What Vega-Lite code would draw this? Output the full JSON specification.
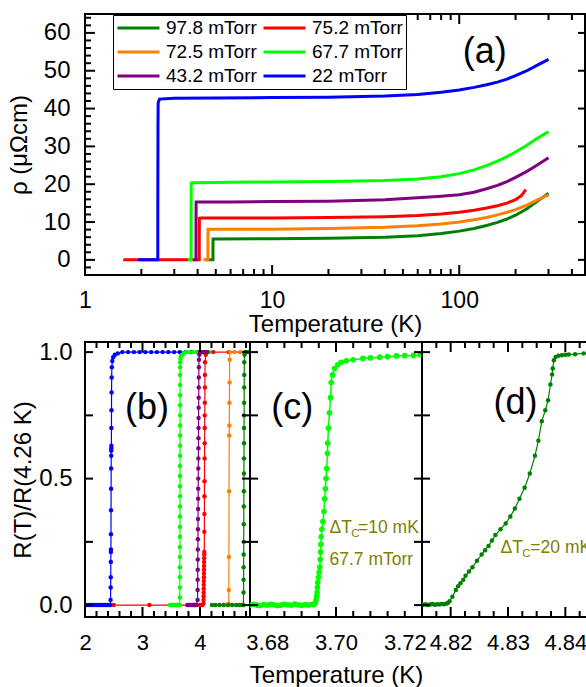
{
"$schema": "https://vega.github.io/schema/vega-lite/v6.json",
"padding": {"left": 6, "top": 9, "right": 0, "bottom": 0},
"background": "white",
"config": {
  "font": "Liberation Sans",
  "view": {"stroke": "black", "strokeWidth": 2},
  "axis": {"grid": false, "domain": false, "ticks": false, "labelColor": "black", "labelFontSize": 23, "titleFontSize": 24, "titleFontWeight": "normal", "titleColor": "black", "labelOverlap": false, "labelFlush": false, "labelFont": "Liberation Sans", "titleFont": "Liberation Sans"},
  "text": {"font": "Liberation Sans"}
},
"datasets": {
  "top": [
    {"s":"75.2 mTorr","T":1.6,"r":0},{"s":"75.2 mTorr","T":2,"r":0},{"s":"75.2 mTorr","T":2.5,"r":0},{"s":"75.2 mTorr","T":3,"r":0},{"s":"75.2 mTorr","T":3.5,"r":0},{"s":"75.2 mTorr","T":4.079,"r":0},{"s":"75.2 mTorr","T":4.08,"r":6},{"s":"75.2 mTorr","T":4.085,"r":11},{"s":"75.2 mTorr","T":4.2,"r":11.1},{"s":"75.2 mTorr","T":6,"r":11.1},{"s":"75.2 mTorr","T":10,"r":11.1},{"s":"75.2 mTorr","T":20,"r":11.2},{"s":"75.2 mTorr","T":40,"r":11.4},{"s":"75.2 mTorr","T":60,"r":11.7},{"s":"75.2 mTorr","T":80,"r":12.1},{"s":"75.2 mTorr","T":100,"r":12.6},{"s":"75.2 mTorr","T":120,"r":13.1},{"s":"75.2 mTorr","T":140,"r":13.7},{"s":"75.2 mTorr","T":160,"r":14.3},{"s":"75.2 mTorr","T":180,"r":15.0},{"s":"75.2 mTorr","T":200,"r":15.9},{"s":"75.2 mTorr","T":215,"r":17.0},{"s":"75.2 mTorr","T":227,"r":18.6},
    {"s":"97.8 mTorr","T":4.4,"r":0},{"s":"97.8 mTorr","T":4.829,"r":0},{"s":"97.8 mTorr","T":4.83,"r":3},{"s":"97.8 mTorr","T":4.835,"r":5.5},{"s":"97.8 mTorr","T":5,"r":5.5},{"s":"97.8 mTorr","T":10,"r":5.6},{"s":"97.8 mTorr","T":20,"r":5.7},{"s":"97.8 mTorr","T":40,"r":6.0},{"s":"97.8 mTorr","T":60,"r":6.4},{"s":"97.8 mTorr","T":80,"r":7.0},{"s":"97.8 mTorr","T":100,"r":7.6},{"s":"97.8 mTorr","T":120,"r":8.3},{"s":"97.8 mTorr","T":140,"r":9.1},{"s":"97.8 mTorr","T":160,"r":9.9},{"s":"97.8 mTorr","T":180,"r":10.8},{"s":"97.8 mTorr","T":200,"r":11.8},{"s":"97.8 mTorr","T":230,"r":13.5},{"s":"97.8 mTorr","T":260,"r":15.4},{"s":"97.8 mTorr","T":300,"r":17.6},
    {"s":"72.5 mTorr","T":4.3,"r":0},{"s":"72.5 mTorr","T":4.539,"r":0},{"s":"72.5 mTorr","T":4.54,"r":5},{"s":"72.5 mTorr","T":4.545,"r":8.1},{"s":"72.5 mTorr","T":4.7,"r":8.1},{"s":"72.5 mTorr","T":6,"r":8.1},{"s":"72.5 mTorr","T":10,"r":8.1},{"s":"72.5 mTorr","T":20,"r":8.3},{"s":"72.5 mTorr","T":40,"r":8.6},{"s":"72.5 mTorr","T":60,"r":9.0},{"s":"72.5 mTorr","T":80,"r":9.5},{"s":"72.5 mTorr","T":100,"r":10.0},{"s":"72.5 mTorr","T":120,"r":10.6},{"s":"72.5 mTorr","T":140,"r":11.2},{"s":"72.5 mTorr","T":160,"r":11.9},{"s":"72.5 mTorr","T":180,"r":12.6},{"s":"72.5 mTorr","T":200,"r":13.3},{"s":"72.5 mTorr","T":230,"r":14.5},{"s":"72.5 mTorr","T":260,"r":15.8},{"s":"72.5 mTorr","T":300,"r":17.2},
    {"s":"43.2 mTorr","T":3.8,"r":0},{"s":"43.2 mTorr","T":3.919,"r":0},{"s":"43.2 mTorr","T":3.92,"r":8},{"s":"43.2 mTorr","T":3.925,"r":15.3},{"s":"43.2 mTorr","T":4.1,"r":15.3},{"s":"43.2 mTorr","T":6,"r":15.3},{"s":"43.2 mTorr","T":10,"r":15.4},{"s":"43.2 mTorr","T":20,"r":15.5},{"s":"43.2 mTorr","T":40,"r":15.9},{"s":"43.2 mTorr","T":60,"r":16.4},{"s":"43.2 mTorr","T":80,"r":16.8},{"s":"43.2 mTorr","T":100,"r":17.2},{"s":"43.2 mTorr","T":120,"r":17.9},{"s":"43.2 mTorr","T":140,"r":18.8},{"s":"43.2 mTorr","T":160,"r":19.7},{"s":"43.2 mTorr","T":180,"r":20.7},{"s":"43.2 mTorr","T":200,"r":21.8},{"s":"43.2 mTorr","T":230,"r":23.4},{"s":"43.2 mTorr","T":260,"r":25.0},{"s":"43.2 mTorr","T":300,"r":27.0},
    {"s":"67.7 mTorr","T":3.55,"r":0},{"s":"67.7 mTorr","T":3.689,"r":0},{"s":"67.7 mTorr","T":3.69,"r":10},{"s":"67.7 mTorr","T":3.695,"r":20.3},{"s":"67.7 mTorr","T":3.8,"r":20.4},{"s":"67.7 mTorr","T":6,"r":20.5},{"s":"67.7 mTorr","T":10,"r":20.6},{"s":"67.7 mTorr","T":20,"r":20.7},{"s":"67.7 mTorr","T":40,"r":21.0},{"s":"67.7 mTorr","T":60,"r":21.4},{"s":"67.7 mTorr","T":80,"r":22.0},{"s":"67.7 mTorr","T":100,"r":22.8},{"s":"67.7 mTorr","T":120,"r":23.8},{"s":"67.7 mTorr","T":140,"r":24.9},{"s":"67.7 mTorr","T":160,"r":26.1},{"s":"67.7 mTorr","T":180,"r":27.3},{"s":"67.7 mTorr","T":200,"r":28.5},{"s":"67.7 mTorr","T":230,"r":30.3},{"s":"67.7 mTorr","T":260,"r":32.1},{"s":"67.7 mTorr","T":300,"r":33.9},
    {"s":"22 mTorr","T":1.92,"r":0},{"s":"22 mTorr","T":2.1,"r":0},{"s":"22 mTorr","T":2.3,"r":0},{"s":"22 mTorr","T":2.449,"r":0},{"s":"22 mTorr","T":2.45,"r":15},{"s":"22 mTorr","T":2.455,"r":35},{"s":"22 mTorr","T":2.46,"r":41.5},{"s":"22 mTorr","T":2.5,"r":42.5},{"s":"22 mTorr","T":3,"r":42.7},{"s":"22 mTorr","T":5,"r":42.8},{"s":"22 mTorr","T":10,"r":42.9},{"s":"22 mTorr","T":20,"r":43.0},{"s":"22 mTorr","T":40,"r":43.3},{"s":"22 mTorr","T":60,"r":43.7},{"s":"22 mTorr","T":80,"r":44.3},{"s":"22 mTorr","T":100,"r":44.9},{"s":"22 mTorr","T":120,"r":45.6},{"s":"22 mTorr","T":140,"r":46.3},{"s":"22 mTorr","T":160,"r":47.0},{"s":"22 mTorr","T":180,"r":47.8},{"s":"22 mTorr","T":200,"r":48.7},{"s":"22 mTorr","T":230,"r":50.0},{"s":"22 mTorr","T":260,"r":51.4},{"s":"22 mTorr","T":300,"r":53.0}
  ],
  "b": [
    {"s":"75.2 mTorr","T":2.0,"v":0},{"s":"75.2 mTorr","T":2.5,"v":0},{"s":"75.2 mTorr","T":3.12,"v":0},{"s":"75.2 mTorr","T":3.6,"v":0},{"s":"75.2 mTorr","T":3.9,"v":0},{"s":"75.2 mTorr","T":4.0,"v":0},{"s":"75.2 mTorr","T":4.04,"v":0},{"s":"75.2 mTorr","T":4.06,"v":0.005},{"s":"75.2 mTorr","T":4.062,"v":0.02},{"s":"75.2 mTorr","T":4.063,"v":0.035},{"s":"75.2 mTorr","T":4.064,"v":0.05},{"s":"75.2 mTorr","T":4.065,"v":0.065},{"s":"75.2 mTorr","T":4.066,"v":0.08},{"s":"75.2 mTorr","T":4.067,"v":0.095},{"s":"75.2 mTorr","T":4.068,"v":0.11},{"s":"75.2 mTorr","T":4.069,"v":0.125},{"s":"75.2 mTorr","T":4.07,"v":0.14},{"s":"75.2 mTorr","T":4.071,"v":0.155},{"s":"75.2 mTorr","T":4.072,"v":0.17},{"s":"75.2 mTorr","T":4.073,"v":0.185},{"s":"75.2 mTorr","T":4.074,"v":0.2},{"s":"75.2 mTorr","T":4.075,"v":0.21},{"s":"75.2 mTorr","T":4.076,"v":0.29},{"s":"75.2 mTorr","T":4.077,"v":0.36},{"s":"75.2 mTorr","T":4.078,"v":0.43},{"s":"75.2 mTorr","T":4.079,"v":0.49},{"s":"75.2 mTorr","T":4.08,"v":0.58},{"s":"75.2 mTorr","T":4.081,"v":0.64},{"s":"75.2 mTorr","T":4.082,"v":0.7},{"s":"75.2 mTorr","T":4.083,"v":0.75},{"s":"75.2 mTorr","T":4.084,"v":0.8},{"s":"75.2 mTorr","T":4.085,"v":0.86},{"s":"75.2 mTorr","T":4.086,"v":0.91},{"s":"75.2 mTorr","T":4.088,"v":0.96},{"s":"75.2 mTorr","T":4.1,"v":0.99},{"s":"75.2 mTorr","T":4.13,"v":1.0},{"s":"75.2 mTorr","T":4.23,"v":1.0},{"s":"75.2 mTorr","T":4.5,"v":1.0},{"s":"75.2 mTorr","T":4.78,"v":1.0},
    {"s":"22 mTorr","T":2.0,"v":0},{"s":"22 mTorr","T":2.03,"v":0},{"s":"22 mTorr","T":2.06,"v":0},{"s":"22 mTorr","T":2.09,"v":0},{"s":"22 mTorr","T":2.12,"v":0},{"s":"22 mTorr","T":2.15,"v":0},{"s":"22 mTorr","T":2.18,"v":0},{"s":"22 mTorr","T":2.21,"v":0},{"s":"22 mTorr","T":2.24,"v":0},{"s":"22 mTorr","T":2.27,"v":0},{"s":"22 mTorr","T":2.3,"v":0},{"s":"22 mTorr","T":2.33,"v":0},{"s":"22 mTorr","T":2.36,"v":0},{"s":"22 mTorr","T":2.39,"v":0},{"s":"22 mTorr","T":2.42,"v":0},{"s":"22 mTorr","T":2.44,"v":0},{"s":"22 mTorr","T":2.445,"v":0.02},{"s":"22 mTorr","T":2.447,"v":0.07},{"s":"22 mTorr","T":2.448,"v":0.11},{"s":"22 mTorr","T":2.449,"v":0.17},{"s":"22 mTorr","T":2.45,"v":0.21},{"s":"22 mTorr","T":2.451,"v":0.22},{"s":"22 mTorr","T":2.452,"v":0.28},{"s":"22 mTorr","T":2.453,"v":0.375},{"s":"22 mTorr","T":2.454,"v":0.46},{"s":"22 mTorr","T":2.455,"v":0.54},{"s":"22 mTorr","T":2.456,"v":0.59},{"s":"22 mTorr","T":2.457,"v":0.61},{"s":"22 mTorr","T":2.458,"v":0.62},{"s":"22 mTorr","T":2.459,"v":0.63},{"s":"22 mTorr","T":2.46,"v":0.7},{"s":"22 mTorr","T":2.461,"v":0.77},{"s":"22 mTorr","T":2.462,"v":0.84},{"s":"22 mTorr","T":2.464,"v":0.9},{"s":"22 mTorr","T":2.467,"v":0.94},{"s":"22 mTorr","T":2.475,"v":0.965},{"s":"22 mTorr","T":2.49,"v":0.98},{"s":"22 mTorr","T":2.52,"v":0.99},{"s":"22 mTorr","T":2.57,"v":0.995},{"s":"22 mTorr","T":2.65,"v":1.0},{"s":"22 mTorr","T":2.75,"v":1.0},{"s":"22 mTorr","T":2.85,"v":1.0},{"s":"22 mTorr","T":2.95,"v":1.0},{"s":"22 mTorr","T":3.05,"v":1.0},{"s":"22 mTorr","T":3.15,"v":1.0},{"s":"22 mTorr","T":3.25,"v":1.0},{"s":"22 mTorr","T":3.35,"v":1.0},{"s":"22 mTorr","T":3.45,"v":1.0},{"s":"22 mTorr","T":3.55,"v":1.0},{"s":"22 mTorr","T":3.65,"v":1.0},{"s":"22 mTorr","T":3.75,"v":1.0},{"s":"22 mTorr","T":3.85,"v":1.0},{"s":"22 mTorr","T":3.95,"v":1.0},{"s":"22 mTorr","T":4.05,"v":1.0},
    {"s":"67.7 mTorr","T":3.48,"v":0},{"s":"67.7 mTorr","T":3.5,"v":0},{"s":"67.7 mTorr","T":3.52,"v":0},{"s":"67.7 mTorr","T":3.54,"v":0},{"s":"67.7 mTorr","T":3.56,"v":0},{"s":"67.7 mTorr","T":3.58,"v":0},{"s":"67.7 mTorr","T":3.6,"v":0},{"s":"67.7 mTorr","T":3.62,"v":0},{"s":"67.7 mTorr","T":3.635,"v":0},{"s":"67.7 mTorr","T":3.645,"v":0},{"s":"67.7 mTorr","T":3.65,"v":0.03},{"s":"67.7 mTorr","T":3.6502,"v":0.07},{"s":"67.7 mTorr","T":3.6504,"v":0.11},{"s":"67.7 mTorr","T":3.6506,"v":0.15},{"s":"67.7 mTorr","T":3.6508,"v":0.19},{"s":"67.7 mTorr","T":3.651,"v":0.23},{"s":"67.7 mTorr","T":3.6512,"v":0.27},{"s":"67.7 mTorr","T":3.6514,"v":0.31},{"s":"67.7 mTorr","T":3.6516,"v":0.35},{"s":"67.7 mTorr","T":3.6518,"v":0.39},{"s":"67.7 mTorr","T":3.652,"v":0.43},{"s":"67.7 mTorr","T":3.6522,"v":0.47},{"s":"67.7 mTorr","T":3.6524,"v":0.51},{"s":"67.7 mTorr","T":3.6526,"v":0.55},{"s":"67.7 mTorr","T":3.6528,"v":0.59},{"s":"67.7 mTorr","T":3.653,"v":0.63},{"s":"67.7 mTorr","T":3.6532,"v":0.67},{"s":"67.7 mTorr","T":3.6534,"v":0.71},{"s":"67.7 mTorr","T":3.6536,"v":0.75},{"s":"67.7 mTorr","T":3.6538,"v":0.79},{"s":"67.7 mTorr","T":3.654,"v":0.83},{"s":"67.7 mTorr","T":3.6542,"v":0.87},{"s":"67.7 mTorr","T":3.6544,"v":0.91},{"s":"67.7 mTorr","T":3.6546,"v":0.94},{"s":"67.7 mTorr","T":3.656,"v":0.96},{"s":"67.7 mTorr","T":3.66,"v":0.975},{"s":"67.7 mTorr","T":3.667,"v":0.985},{"s":"67.7 mTorr","T":3.69,"v":0.99},{"s":"67.7 mTorr","T":3.72,"v":0.995},{"s":"67.7 mTorr","T":3.76,"v":1.0},{"s":"67.7 mTorr","T":3.82,"v":1.0},{"s":"67.7 mTorr","T":3.88,"v":1.0},{"s":"67.7 mTorr","T":3.94,"v":1.0},{"s":"67.7 mTorr","T":4.0,"v":1.0},{"s":"67.7 mTorr","T":4.08,"v":1.0},{"s":"67.7 mTorr","T":4.16,"v":1.0},
    {"s":"43.2 mTorr","T":3.78,"v":0},{"s":"43.2 mTorr","T":3.81,"v":0},{"s":"43.2 mTorr","T":3.84,"v":0},{"s":"43.2 mTorr","T":3.87,"v":0},{"s":"43.2 mTorr","T":3.9,"v":0},{"s":"43.2 mTorr","T":3.92,"v":0},{"s":"43.2 mTorr","T":3.94,"v":0},{"s":"43.2 mTorr","T":3.958,"v":0.02},{"s":"43.2 mTorr","T":3.959,"v":0.06},{"s":"43.2 mTorr","T":3.96,"v":0.1},{"s":"43.2 mTorr","T":3.961,"v":0.14},{"s":"43.2 mTorr","T":3.962,"v":0.18},{"s":"43.2 mTorr","T":3.963,"v":0.22},{"s":"43.2 mTorr","T":3.964,"v":0.26},{"s":"43.2 mTorr","T":3.965,"v":0.3},{"s":"43.2 mTorr","T":3.966,"v":0.34},{"s":"43.2 mTorr","T":3.967,"v":0.38},{"s":"43.2 mTorr","T":3.968,"v":0.42},{"s":"43.2 mTorr","T":3.969,"v":0.46},{"s":"43.2 mTorr","T":3.97,"v":0.5},{"s":"43.2 mTorr","T":3.971,"v":0.54},{"s":"43.2 mTorr","T":3.972,"v":0.58},{"s":"43.2 mTorr","T":3.973,"v":0.62},{"s":"43.2 mTorr","T":3.974,"v":0.66},{"s":"43.2 mTorr","T":3.975,"v":0.7},{"s":"43.2 mTorr","T":3.976,"v":0.74},{"s":"43.2 mTorr","T":3.977,"v":0.78},{"s":"43.2 mTorr","T":3.978,"v":0.82},{"s":"43.2 mTorr","T":3.979,"v":0.86},{"s":"43.2 mTorr","T":3.98,"v":0.9},{"s":"43.2 mTorr","T":3.981,"v":0.94},{"s":"43.2 mTorr","T":3.982,"v":0.97},{"s":"43.2 mTorr","T":3.99,"v":0.99},{"s":"43.2 mTorr","T":4.0,"v":1.0},{"s":"43.2 mTorr","T":4.03,"v":1.0},{"s":"43.2 mTorr","T":4.06,"v":1.0},{"s":"43.2 mTorr","T":4.09,"v":1.0},{"s":"43.2 mTorr","T":4.13,"v":1.0},
    {"s":"72.5 mTorr","T":4.44,"v":0},{"s":"72.5 mTorr","T":4.47,"v":0},{"s":"72.5 mTorr","T":4.49,"v":0},{"s":"72.5 mTorr","T":4.5,"v":0.005},{"s":"72.5 mTorr","T":4.502,"v":0.06},{"s":"72.5 mTorr","T":4.504,"v":0.19},{"s":"72.5 mTorr","T":4.506,"v":0.45},{"s":"72.5 mTorr","T":4.508,"v":0.67},{"s":"72.5 mTorr","T":4.51,"v":0.71},{"s":"72.5 mTorr","T":4.512,"v":0.8},{"s":"72.5 mTorr","T":4.514,"v":0.88},{"s":"72.5 mTorr","T":4.516,"v":0.97},{"s":"72.5 mTorr","T":4.52,"v":1.0},{"s":"72.5 mTorr","T":4.6,"v":1.0},{"s":"72.5 mTorr","T":4.7,"v":1.0},{"s":"72.5 mTorr","T":4.78,"v":1.0},{"s":"72.5 mTorr","T":4.86,"v":1.0},
    {"s":"97.8 mTorr","T":4.21,"v":0},{"s":"97.8 mTorr","T":4.27,"v":0},{"s":"97.8 mTorr","T":4.34,"v":0},{"s":"97.8 mTorr","T":4.41,"v":0},{"s":"97.8 mTorr","T":4.49,"v":0},{"s":"97.8 mTorr","T":4.56,"v":0},{"s":"97.8 mTorr","T":4.63,"v":0},{"s":"97.8 mTorr","T":4.69,"v":0},{"s":"97.8 mTorr","T":4.73,"v":0},{"s":"97.8 mTorr","T":4.755,"v":0},{"s":"97.8 mTorr","T":4.758,"v":0.05},{"s":"97.8 mTorr","T":4.7588,"v":0.1},{"s":"97.8 mTorr","T":4.7596,"v":0.15},{"s":"97.8 mTorr","T":4.7604,"v":0.2},{"s":"97.8 mTorr","T":4.7612,"v":0.25},{"s":"97.8 mTorr","T":4.762,"v":0.32},{"s":"97.8 mTorr","T":4.7628,"v":0.39},{"s":"97.8 mTorr","T":4.7636,"v":0.45},{"s":"97.8 mTorr","T":4.7644,"v":0.52},{"s":"97.8 mTorr","T":4.7652,"v":0.58},{"s":"97.8 mTorr","T":4.766,"v":0.64},{"s":"97.8 mTorr","T":4.7668,"v":0.7},{"s":"97.8 mTorr","T":4.7676,"v":0.75},{"s":"97.8 mTorr","T":4.7684,"v":0.8},{"s":"97.8 mTorr","T":4.7692,"v":0.86},{"s":"97.8 mTorr","T":4.77,"v":0.91},{"s":"97.8 mTorr","T":4.7708,"v":0.96},{"s":"97.8 mTorr","T":4.775,"v":0.99},{"s":"97.8 mTorr","T":4.79,"v":1.0},{"s":"97.8 mTorr","T":4.81,"v":1.0},{"s":"97.8 mTorr","T":4.83,"v":1.0},{"s":"97.8 mTorr","T":4.85,"v":1.0},{"s":"97.8 mTorr","T":4.87,"v":1.0}
  ],
  "c": [
    {"s":"67.7 mTorr","T":3.675,"v":0.0},{"s":"67.7 mTorr","T":3.676,"v":0.003},{"s":"67.7 mTorr","T":3.677,"v":0.0},{"s":"67.7 mTorr","T":3.678,"v":-0.002},{"s":"67.7 mTorr","T":3.679,"v":0.002},{"s":"67.7 mTorr","T":3.68,"v":0.0},{"s":"67.7 mTorr","T":3.681,"v":0.003},{"s":"67.7 mTorr","T":3.682,"v":0.001},{"s":"67.7 mTorr","T":3.683,"v":-0.002},{"s":"67.7 mTorr","T":3.684,"v":0.0},{"s":"67.7 mTorr","T":3.685,"v":0.003},{"s":"67.7 mTorr","T":3.686,"v":0.001},{"s":"67.7 mTorr","T":3.687,"v":0.0},{"s":"67.7 mTorr","T":3.688,"v":0.004},{"s":"67.7 mTorr","T":3.689,"v":0.001},{"s":"67.7 mTorr","T":3.69,"v":-0.001},{"s":"67.7 mTorr","T":3.691,"v":0.002},{"s":"67.7 mTorr","T":3.692,"v":0.0},{"s":"67.7 mTorr","T":3.693,"v":0.003},{"s":"67.7 mTorr","T":3.6935,"v":0.002},
    {"s":"67.7 mTorr","T":3.694,"v":0.008},{"s":"67.7 mTorr","T":3.6942,"v":0.02},{"s":"67.7 mTorr","T":3.6944,"v":0.035},{"s":"67.7 mTorr","T":3.6945,"v":0.05},{"s":"67.7 mTorr","T":3.6946,"v":0.07},{"s":"67.7 mTorr","T":3.6947,"v":0.09},{"s":"67.7 mTorr","T":3.6949,"v":0.11},{"s":"67.7 mTorr","T":3.6951,"v":0.13},{"s":"67.7 mTorr","T":3.6953,"v":0.15},{"s":"67.7 mTorr","T":3.6954,"v":0.18},{"s":"67.7 mTorr","T":3.6955,"v":0.21},{"s":"67.7 mTorr","T":3.6956,"v":0.24},{"s":"67.7 mTorr","T":3.6957,"v":0.27},{"s":"67.7 mTorr","T":3.6959,"v":0.3},{"s":"67.7 mTorr","T":3.6962,"v":0.33},{"s":"67.7 mTorr","T":3.6965,"v":0.37},{"s":"67.7 mTorr","T":3.6967,"v":0.42},{"s":"67.7 mTorr","T":3.6969,"v":0.46},{"s":"67.7 mTorr","T":3.6971,"v":0.5},{"s":"67.7 mTorr","T":3.6973,"v":0.54},{"s":"67.7 mTorr","T":3.6975,"v":0.6},{"s":"67.7 mTorr","T":3.6976,"v":0.64},{"s":"67.7 mTorr","T":3.6978,"v":0.7},{"s":"67.7 mTorr","T":3.6981,"v":0.76},{"s":"67.7 mTorr","T":3.6984,"v":0.82},{"s":"67.7 mTorr","T":3.6986,"v":0.88},{"s":"67.7 mTorr","T":3.699,"v":0.91},{"s":"67.7 mTorr","T":3.6996,"v":0.935},{"s":"67.7 mTorr","T":3.7005,"v":0.95},{"s":"67.7 mTorr","T":3.7015,"v":0.96},{"s":"67.7 mTorr","T":3.703,"v":0.966},{"s":"67.7 mTorr","T":3.705,"v":0.97},{"s":"67.7 mTorr","T":3.7078,"v":0.975},{"s":"67.7 mTorr","T":3.71,"v":0.977},{"s":"67.7 mTorr","T":3.7127,"v":0.98},{"s":"67.7 mTorr","T":3.715,"v":0.982},{"s":"67.7 mTorr","T":3.7176,"v":0.985},{"s":"67.7 mTorr","T":3.72,"v":0.986},{"s":"67.7 mTorr","T":3.7225,"v":0.987},{"s":"67.7 mTorr","T":3.7245,"v":0.99},{"s":"67.7 mTorr","T":3.73,"v":0.995}
  ],
  "d": [
    {"s":"97.8 mTorr","T":4.8152,"v":0.001},{"s":"97.8 mTorr","T":4.8156,"v":0.003},{"s":"97.8 mTorr","T":4.816,"v":0.0},{"s":"97.8 mTorr","T":4.8164,"v":0.002},{"s":"97.8 mTorr","T":4.8168,"v":0.004},{"s":"97.8 mTorr","T":4.8172,"v":0.001},{"s":"97.8 mTorr","T":4.8176,"v":0.003},{"s":"97.8 mTorr","T":4.818,"v":0.002},{"s":"97.8 mTorr","T":4.8184,"v":0.004},{"s":"97.8 mTorr","T":4.8188,"v":0.003},{"s":"97.8 mTorr","T":4.8192,"v":0.005},
    {"s":"97.8 mTorr","T":4.8195,"v":0.008},{"s":"97.8 mTorr","T":4.8198,"v":0.015},{"s":"97.8 mTorr","T":4.8203,"v":0.033},{"s":"97.8 mTorr","T":4.8209,"v":0.06},{"s":"97.8 mTorr","T":4.8213,"v":0.075},{"s":"97.8 mTorr","T":4.8217,"v":0.086},{"s":"97.8 mTorr","T":4.8222,"v":0.1},{"s":"97.8 mTorr","T":4.8226,"v":0.116},{"s":"97.8 mTorr","T":4.8232,"v":0.133},{"s":"97.8 mTorr","T":4.8238,"v":0.15},{"s":"97.8 mTorr","T":4.8246,"v":0.175},{"s":"97.8 mTorr","T":4.8254,"v":0.2},{"s":"97.8 mTorr","T":4.826,"v":0.217},{"s":"97.8 mTorr","T":4.8266,"v":0.234},{"s":"97.8 mTorr","T":4.8272,"v":0.255},{"s":"97.8 mTorr","T":4.8278,"v":0.277},{"s":"97.8 mTorr","T":4.8287,"v":0.3},{"s":"97.8 mTorr","T":4.8296,"v":0.323},{"s":"97.8 mTorr","T":4.8304,"v":0.35},{"s":"97.8 mTorr","T":4.8312,"v":0.382},{"s":"97.8 mTorr","T":4.832,"v":0.42},{"s":"97.8 mTorr","T":4.8329,"v":0.464},{"s":"97.8 mTorr","T":4.8338,"v":0.52},{"s":"97.8 mTorr","T":4.8347,"v":0.59},{"s":"97.8 mTorr","T":4.8353,"v":0.65},{"s":"97.8 mTorr","T":4.8359,"v":0.727},{"s":"97.8 mTorr","T":4.8365,"v":0.77},{"s":"97.8 mTorr","T":4.837,"v":0.81},{"s":"97.8 mTorr","T":4.8374,"v":0.872},{"s":"97.8 mTorr","T":4.8377,"v":0.912},{"s":"97.8 mTorr","T":4.8378,"v":0.935},{"s":"97.8 mTorr","T":4.838,"v":0.968},{"s":"97.8 mTorr","T":4.8383,"v":0.981},{"s":"97.8 mTorr","T":4.8388,"v":0.986},{"s":"97.8 mTorr","T":4.8394,"v":0.988},{"s":"97.8 mTorr","T":4.84,"v":0.99},{"s":"97.8 mTorr","T":4.8406,"v":0.991},{"s":"97.8 mTorr","T":4.8417,"v":0.992},{"s":"97.8 mTorr","T":4.8432,"v":0.995},{"s":"97.8 mTorr","T":4.845,"v":0.997},{"s":"97.8 mTorr","T":4.847,"v":0.998}
  ],
  "tA": [{"T":1,"k":"M"},{"T":2,"k":"m"},{"T":3,"k":"m"},{"T":4,"k":"m"},{"T":5,"k":"m"},{"T":6,"k":"m"},{"T":7,"k":"m"},{"T":8,"k":"m"},{"T":9,"k":"m"},{"T":10,"k":"M"},{"T":20,"k":"m"},{"T":30,"k":"m"},{"T":40,"k":"m"},{"T":50,"k":"m"},{"T":60,"k":"m"},{"T":70,"k":"m"},{"T":80,"k":"m"},{"T":90,"k":"m"},{"T":100,"k":"M"},{"T":200,"k":"m"},{"T":300,"k":"m"},{"T":400,"k":"m"}],
  "tAy": [{"r":-4,"k":"m"},{"r":-2,"k":"m"},{"r":0,"k":"M"},{"r":2,"k":"m"},{"r":4,"k":"m"},{"r":6,"k":"m"},{"r":8,"k":"m"},{"r":10,"k":"M"},{"r":12,"k":"m"},{"r":14,"k":"m"},{"r":16,"k":"m"},{"r":18,"k":"m"},{"r":20,"k":"M"},{"r":22,"k":"m"},{"r":24,"k":"m"},{"r":26,"k":"m"},{"r":28,"k":"m"},{"r":30,"k":"M"},{"r":32,"k":"m"},{"r":34,"k":"m"},{"r":36,"k":"m"},{"r":38,"k":"m"},{"r":40,"k":"M"},{"r":42,"k":"m"},{"r":44,"k":"m"},{"r":46,"k":"m"},{"r":48,"k":"m"},{"r":50,"k":"M"},{"r":52,"k":"m"},{"r":54,"k":"m"},{"r":56,"k":"m"},{"r":58,"k":"m"},{"r":60,"k":"M"},{"r":62,"k":"m"},{"r":64,"k":"m"}],
  "tB": [{"T":2,"k":"M"},{"T":2.2,"k":"m"},{"T":2.4,"k":"m"},{"T":2.6,"k":"m"},{"T":2.8,"k":"m"},{"T":3,"k":"M"},{"T":3.2,"k":"m"},{"T":3.4,"k":"m"},{"T":3.6,"k":"m"},{"T":3.8,"k":"m"},{"T":4,"k":"M"},{"T":4.2,"k":"m"},{"T":4.4,"k":"m"},{"T":4.6,"k":"m"},{"T":4.8,"k":"m"}],
  "tBy": [{"v":0},{"v":0.25},{"v":0.5},{"v":0.75},{"v":1}],
  "tC": [{"T":3.68,"k":"m"},{"T":3.685,"k":"m"},{"T":3.69,"k":"m"},{"T":3.695,"k":"m"},{"T":3.7,"k":"M"},{"T":3.705,"k":"m"},{"T":3.71,"k":"m"},{"T":3.715,"k":"m"},{"T":3.72,"k":"m"}],
  "tD": [{"T":4.8175,"k":"m"},{"T":4.82,"k":"M"},{"T":4.8225,"k":"m"},{"T":4.825,"k":"m"},{"T":4.8275,"k":"m"},{"T":4.83,"k":"M"},{"T":4.8325,"k":"m"},{"T":4.835,"k":"m"},{"T":4.8375,"k":"m"},{"T":4.84,"k":"M"},{"T":4.8425,"k":"m"}]
},
"bounds": "flush",
"spacing": 67,
"resolve": {"scale": {"color": "independent"}},
"vconcat": [
  {
    "width": 500, "height": 261,
    "layer": [
      {"data": {"name": "top"}, "mark": {"type": "line", "strokeWidth": 3, "clip": true},
       "encoding": {
         "x": {"field": "T", "type": "quantitative", "scale": {"type": "log", "domain": [1, 470], "nice": false},
               "axis": {"orient": "bottom", "values": [1,10,100], "labelExpr": "format(datum.value,'d')", "labelPadding": 14, "title": "Temperature (K)", "titlePadding": 0}},
         "y": {"field": "r", "type": "quantitative", "scale": {"domain": [-4, 65], "nice": false, "zero": false},
               "axis": {"orient": "left", "values": [0,10,20,30,40,50,60], "labelExpr": "format(datum.value,'d')", "labelFontSize": 24, "labelPadding": 15, "title": "ρ (μΩcm)", "titlePadding": 12}},
         "color": {"field": "s", "type": "nominal",
                   "scale": {"domain": ["97.8 mTorr","72.5 mTorr","43.2 mTorr","75.2 mTorr","67.7 mTorr","22 mTorr"], "range": ["#008000","#FF8000","#800080","#FF0000","#00FF00","#0000FF"]},
                   "legend": {"orient": "none", "legendX": 28, "legendY": 1, "columns": 2, "title": null, "symbolType": "stroke", "symbolSize": 1764, "symbolStrokeWidth": 3, "labelFontSize": 19, "labelFont": "Liberation Sans", "labelColor": "black", "strokeColor": "black", "fillColor": "white", "padding": 3, "rowPadding": 4, "columnPadding": 5, "labelOffset": 5, "clipHeight": 20}}
       }},
      {"data": {"values": [{"T": 137, "r": 55, "t": "(a)"}]}, "mark": {"type": "text", "fontSize": 36, "align": "center", "baseline": "middle", "color": "black"},
       "encoding": {
         "x": {"field": "T", "type": "quantitative", "scale": {"type": "log", "domain": [1, 470], "nice": false}},
         "y": {"field": "r", "type": "quantitative", "scale": {"domain": [-4, 65], "nice": false, "zero": false}},
         "text": {"field": "t"}
       }},
      {"data": {"name": "tA"}, "transform": [{"filter": "datum.k=='m'"}], "mark": {"type": "point", "shape": "M0,0V-1", "size": 144, "filled": false, "strokeWidth": 2, "color": "black", "opacity": 1},
       "encoding": {
         "x": {"field": "T", "type": "quantitative", "scale": {"type": "log", "domain": [1, 470], "nice": false}},
         "y": {"datum": -4, "type": "quantitative", "scale": {"domain": [-4, 65], "nice": false, "zero": false}}
       }},
      {"data": {"name": "tA"}, "transform": [{"filter": "datum.k=='M'"}], "mark": {"type": "point", "shape": "M0,0V-1", "size": 400, "filled": false, "strokeWidth": 2, "color": "black", "opacity": 1},
       "encoding": {
         "x": {"field": "T", "type": "quantitative", "scale": {"type": "log", "domain": [1, 470], "nice": false}},
         "y": {"datum": -4, "type": "quantitative", "scale": {"domain": [-4, 65], "nice": false, "zero": false}}
       }},
      {"data": {"name": "tA"}, "transform": [{"filter": "datum.k=='m'"}], "mark": {"type": "point", "shape": "M0,0V1", "size": 144, "filled": false, "strokeWidth": 2, "color": "black", "opacity": 1},
       "encoding": {
         "x": {"field": "T", "type": "quantitative", "scale": {"type": "log", "domain": [1, 470], "nice": false}},
         "y": {"datum": 65, "type": "quantitative", "scale": {"domain": [-4, 65], "nice": false, "zero": false}}
       }},
      {"data": {"name": "tA"}, "transform": [{"filter": "datum.k=='M'"}], "mark": {"type": "point", "shape": "M0,0V1", "size": 400, "filled": false, "strokeWidth": 2, "color": "black", "opacity": 1},
       "encoding": {
         "x": {"field": "T", "type": "quantitative", "scale": {"type": "log", "domain": [1, 470], "nice": false}},
         "y": {"datum": 65, "type": "quantitative", "scale": {"domain": [-4, 65], "nice": false, "zero": false}}
       }},
      {"data": {"name": "tAy"}, "transform": [{"filter": "datum.k=='m'"}], "mark": {"type": "point", "shape": "M0,0H1", "size": 144, "filled": false, "strokeWidth": 2, "color": "black", "opacity": 1},
       "encoding": {
         "y": {"field": "r", "type": "quantitative", "scale": {"domain": [-4, 65], "nice": false, "zero": false}},
         "x": {"datum": 1, "type": "quantitative", "scale": {"type": "log", "domain": [1, 470], "nice": false}}
       }},
      {"data": {"name": "tAy"}, "transform": [{"filter": "datum.k=='M'"}], "mark": {"type": "point", "shape": "M0,0H1", "size": 400, "filled": false, "strokeWidth": 2, "color": "black", "opacity": 1},
       "encoding": {
         "y": {"field": "r", "type": "quantitative", "scale": {"domain": [-4, 65], "nice": false, "zero": false}},
         "x": {"datum": 1, "type": "quantitative", "scale": {"type": "log", "domain": [1, 470], "nice": false}}
       }},
      {"data": {"name": "tAy"}, "transform": [{"filter": "datum.k=='M'"}], "mark": {"type": "point", "shape": "M0,0H-1", "size": 196, "filled": false, "strokeWidth": 2, "color": "black", "opacity": 1},
       "encoding": {
         "y": {"field": "r", "type": "quantitative", "scale": {"domain": [-4, 65], "nice": false, "zero": false}},
         "x": {"datum": 470, "type": "quantitative", "scale": {"type": "log", "domain": [1, 470], "nice": false}}
       }}
    ]
  },
  {
    "bounds": "flush",
    "spacing": 0,
    "hconcat": [
      {
        "width": 165, "height": 275,
        "layer": [
          {"data": {"name": "b"}, "mark": {"type": "line", "strokeWidth": 1.2, "clip": true},
           "encoding": {
             "x": {"field": "T", "type": "quantitative", "scale": {"domain": [2, 4.87], "nice": false, "zero": false},
                   "axis": {"orient": "bottom", "values": [2,3,4], "format": "d", "labelFontSize": 22, "labelPadding": 15, "title": null}},
             "y": {"field": "v", "type": "quantitative", "scale": {"domain": [-0.047, 1.04], "nice": false, "zero": false},
                   "axis": {"orient": "left", "values": [0,0.5,1], "format": ".1f", "labelFontSize": 24, "labelPadding": 13, "title": "R(T)/R(4.26 K)", "titlePadding": 3}},
             "color": {"field": "s", "type": "nominal", "scale": {"domain": ["97.8 mTorr","72.5 mTorr","43.2 mTorr","75.2 mTorr","67.7 mTorr","22 mTorr"], "range": ["#008000","#FF8000","#800080","#FF0000","#00FF00","#0000FF"]}, "legend": null}
           }},
          {"data": {"name": "b"}, "mark": {"type": "circle", "size": 20, "opacity": 1, "clip": true},
           "encoding": {
             "x": {"field": "T", "type": "quantitative", "scale": {"domain": [2, 4.87], "nice": false, "zero": false}},
             "y": {"field": "v", "type": "quantitative", "scale": {"domain": [-0.047, 1.04], "nice": false, "zero": false}},
             "color": {"field": "s", "type": "nominal", "scale": {"domain": ["97.8 mTorr","72.5 mTorr","43.2 mTorr","75.2 mTorr","67.7 mTorr","22 mTorr"], "range": ["#008000","#FF8000","#800080","#FF0000","#00FF00","#0000FF"]}, "legend": null}
           }},
          {"data": {"values": [{"T": 3.08, "v": 0.78, "t": "(b)"}]}, "mark": {"type": "text", "fontSize": 36, "align": "center", "baseline": "middle", "color": "black"},
           "encoding": {
             "x": {"field": "T", "type": "quantitative", "scale": {"domain": [2, 4.87], "nice": false, "zero": false}},
             "y": {"field": "v", "type": "quantitative", "scale": {"domain": [-0.047, 1.04], "nice": false, "zero": false}},
             "text": {"field": "t"}
           }},
          {"data": {"name": "tB"}, "transform": [{"filter": "datum.k=='m'"}], "mark": {"type": "point", "shape": "M0,0V-1", "size": 144, "filled": false, "strokeWidth": 2, "color": "black", "opacity": 1},
           "encoding": {
             "x": {"field": "T", "type": "quantitative", "scale": {"domain": [2, 4.87], "nice": false, "zero": false}},
             "y": {"datum": -0.047, "type": "quantitative", "scale": {"domain": [-0.047, 1.04], "nice": false, "zero": false}}
           }},
          {"data": {"name": "tB"}, "transform": [{"filter": "datum.k=='M'"}], "mark": {"type": "point", "shape": "M0,0V-1", "size": 400, "filled": false, "strokeWidth": 2, "color": "black", "opacity": 1},
           "encoding": {
             "x": {"field": "T", "type": "quantitative", "scale": {"domain": [2, 4.87], "nice": false, "zero": false}},
             "y": {"datum": -0.047, "type": "quantitative", "scale": {"domain": [-0.047, 1.04], "nice": false, "zero": false}}
           }},
          {"data": {"name": "tB"}, "transform": [{"filter": "datum.k=='m'"}], "mark": {"type": "point", "shape": "M0,0V1", "size": 144, "filled": false, "strokeWidth": 2, "color": "black", "opacity": 1},
           "encoding": {
             "x": {"field": "T", "type": "quantitative", "scale": {"domain": [2, 4.87], "nice": false, "zero": false}},
             "y": {"datum": 1.04, "type": "quantitative", "scale": {"domain": [-0.047, 1.04], "nice": false, "zero": false}}
           }},
          {"data": {"name": "tB"}, "transform": [{"filter": "datum.k=='M'"}], "mark": {"type": "point", "shape": "M0,0V1", "size": 400, "filled": false, "strokeWidth": 2, "color": "black", "opacity": 1},
           "encoding": {
             "x": {"field": "T", "type": "quantitative", "scale": {"domain": [2, 4.87], "nice": false, "zero": false}},
             "y": {"datum": 1.04, "type": "quantitative", "scale": {"domain": [-0.047, 1.04], "nice": false, "zero": false}}
           }},
          {"data": {"name": "tBy"}, "mark": {"type": "point", "shape": "M0,0H1", "size": 256, "filled": false, "strokeWidth": 2, "color": "black", "opacity": 1},
           "encoding": {
             "y": {"field": "v", "type": "quantitative", "scale": {"domain": [-0.047, 1.04], "nice": false, "zero": false}},
             "x": {"datum": 2, "type": "quantitative", "scale": {"domain": [2, 4.87], "nice": false, "zero": false}}
           }},
          {"data": {"name": "tBy"}, "mark": {"type": "point", "shape": "M0,0H-1", "size": 256, "filled": false, "strokeWidth": 2, "color": "black", "opacity": 1},
           "encoding": {
             "y": {"field": "v", "type": "quantitative", "scale": {"domain": [-0.047, 1.04], "nice": false, "zero": false}},
             "x": {"datum": 4.87, "type": "quantitative", "scale": {"domain": [2, 4.87], "nice": false, "zero": false}}
           }}
        ]
      },
      {
        "width": 172, "height": 275,
        "layer": [
          {"data": {"name": "c"}, "mark": {"type": "line", "strokeWidth": 1.5, "clip": true},
           "encoding": {
             "x": {"field": "T", "type": "quantitative", "scale": {"domain": [3.675, 3.725], "nice": false, "zero": false},
                   "axis": {"orient": "bottom", "values": [3.68,3.7,3.72], "format": ".2f", "labelFontSize": 22, "labelPadding": 15, "title": "Temperature (K)", "titlePadding": 10}},
             "y": {"field": "v", "type": "quantitative", "scale": {"domain": [-0.047, 1.04], "nice": false, "zero": false},
                   "axis": {"orient": "left", "labels": false, "title": null}},
             "color": {"field": "s", "type": "nominal", "scale": {"domain": ["97.8 mTorr","72.5 mTorr","43.2 mTorr","75.2 mTorr","67.7 mTorr","22 mTorr"], "range": ["#008000","#FF8000","#800080","#FF0000","#00FF00","#0000FF"]}, "legend": null}
           }},
          {"data": {"name": "c"}, "mark": {"type": "circle", "size": 32, "opacity": 1, "clip": true},
           "encoding": {
             "x": {"field": "T", "type": "quantitative", "scale": {"domain": [3.675, 3.725], "nice": false, "zero": false}},
             "y": {"field": "v", "type": "quantitative", "scale": {"domain": [-0.047, 1.04], "nice": false, "zero": false}},
             "color": {"field": "s", "type": "nominal", "scale": {"domain": ["97.8 mTorr","72.5 mTorr","43.2 mTorr","75.2 mTorr","67.7 mTorr","22 mTorr"], "range": ["#008000","#FF8000","#800080","#FF0000","#00FF00","#0000FF"]}, "legend": null}
           }},
          {"data": {"values": [{"T": 3.6981, "v": 0.304, "t": "ΔT"}, {"T": 3.7064, "v": 0.304, "t": "=10 mK"}, {"T": 3.6981, "v": 0.178, "t": "67.7 mTorr"}]},
           "mark": {"type": "text", "fontSize": 17.5, "align": "left", "baseline": "middle", "color": "#808000"},
           "encoding": {
             "x": {"field": "T", "type": "quantitative", "scale": {"domain": [3.675, 3.725], "nice": false, "zero": false}},
             "y": {"field": "v", "type": "quantitative", "scale": {"domain": [-0.047, 1.04], "nice": false, "zero": false}},
             "text": {"field": "t"}
           }},
          {"data": {"values": [{"T": 3.7044, "v": 0.28, "t": "C"}]},
           "mark": {"type": "text", "fontSize": 11.5, "align": "left", "baseline": "middle", "color": "#808000"},
           "encoding": {
             "x": {"field": "T", "type": "quantitative", "scale": {"domain": [3.675, 3.725], "nice": false, "zero": false}},
             "y": {"field": "v", "type": "quantitative", "scale": {"domain": [-0.047, 1.04], "nice": false, "zero": false}},
             "text": {"field": "t"}
           }},
          {"data": {"values": [{"T": 3.6873, "v": 0.78, "t": "(c)"}]}, "mark": {"type": "text", "fontSize": 36, "align": "center", "baseline": "middle", "color": "black"},
           "encoding": {
             "x": {"field": "T", "type": "quantitative", "scale": {"domain": [3.675, 3.725], "nice": false, "zero": false}},
             "y": {"field": "v", "type": "quantitative", "scale": {"domain": [-0.047, 1.04], "nice": false, "zero": false}},
             "text": {"field": "t"}
           }},
          {"data": {"name": "tC"}, "transform": [{"filter": "datum.k=='m'"}], "mark": {"type": "point", "shape": "M0,0V-1", "size": 144, "filled": false, "strokeWidth": 2, "color": "black", "opacity": 1},
           "encoding": {
             "x": {"field": "T", "type": "quantitative", "scale": {"domain": [3.675, 3.725], "nice": false, "zero": false}},
             "y": {"datum": -0.047, "type": "quantitative", "scale": {"domain": [-0.047, 1.04], "nice": false, "zero": false}}
           }},
          {"data": {"name": "tC"}, "transform": [{"filter": "datum.k=='M'"}], "mark": {"type": "point", "shape": "M0,0V-1", "size": 400, "filled": false, "strokeWidth": 2, "color": "black", "opacity": 1},
           "encoding": {
             "x": {"field": "T", "type": "quantitative", "scale": {"domain": [3.675, 3.725], "nice": false, "zero": false}},
             "y": {"datum": -0.047, "type": "quantitative", "scale": {"domain": [-0.047, 1.04], "nice": false, "zero": false}}
           }},
          {"data": {"name": "tC"}, "transform": [{"filter": "datum.k=='m'"}], "mark": {"type": "point", "shape": "M0,0V1", "size": 144, "filled": false, "strokeWidth": 2, "color": "black", "opacity": 1},
           "encoding": {
             "x": {"field": "T", "type": "quantitative", "scale": {"domain": [3.675, 3.725], "nice": false, "zero": false}},
             "y": {"datum": 1.04, "type": "quantitative", "scale": {"domain": [-0.047, 1.04], "nice": false, "zero": false}}
           }},
          {"data": {"name": "tC"}, "transform": [{"filter": "datum.k=='M'"}], "mark": {"type": "point", "shape": "M0,0V1", "size": 400, "filled": false, "strokeWidth": 2, "color": "black", "opacity": 1},
           "encoding": {
             "x": {"field": "T", "type": "quantitative", "scale": {"domain": [3.675, 3.725], "nice": false, "zero": false}},
             "y": {"datum": 1.04, "type": "quantitative", "scale": {"domain": [-0.047, 1.04], "nice": false, "zero": false}}
           }},
          {"data": {"name": "tBy"}, "mark": {"type": "point", "shape": "M0,0H1", "size": 256, "filled": false, "strokeWidth": 2, "color": "black", "opacity": 1},
           "encoding": {
             "y": {"field": "v", "type": "quantitative", "scale": {"domain": [-0.047, 1.04], "nice": false, "zero": false}},
             "x": {"datum": 3.675, "type": "quantitative", "scale": {"domain": [3.675, 3.725], "nice": false, "zero": false}}
           }},
          {"data": {"name": "tBy"}, "mark": {"type": "point", "shape": "M0,0H-1", "size": 256, "filled": false, "strokeWidth": 2, "color": "black", "opacity": 1},
           "encoding": {
             "y": {"field": "v", "type": "quantitative", "scale": {"domain": [-0.047, 1.04], "nice": false, "zero": false}},
             "x": {"datum": 3.725, "type": "quantitative", "scale": {"domain": [3.675, 3.725], "nice": false, "zero": false}}
           }}
        ]
      },
      {
        "width": 172, "height": 275,
        "layer": [
          {"data": {"name": "d"}, "mark": {"type": "line", "strokeWidth": 1.2, "clip": true},
           "encoding": {
             "x": {"field": "T", "type": "quantitative", "scale": {"domain": [4.815, 4.845], "nice": false, "zero": false},
                   "axis": {"orient": "bottom", "values": [4.82,4.83,4.84], "format": ".2f", "labelFontSize": 22, "labelPadding": 15, "title": null}},
             "y": {"field": "v", "type": "quantitative", "scale": {"domain": [-0.047, 1.04], "nice": false, "zero": false},
                   "axis": {"orient": "left", "labels": false, "title": null}},
             "color": {"field": "s", "type": "nominal", "scale": {"domain": ["97.8 mTorr","72.5 mTorr","43.2 mTorr","75.2 mTorr","67.7 mTorr","22 mTorr"], "range": ["#008000","#FF8000","#800080","#FF0000","#00FF00","#0000FF"]}, "legend": null}
           }},
          {"data": {"name": "d"}, "mark": {"type": "circle", "size": 20, "opacity": 1, "clip": true},
           "encoding": {
             "x": {"field": "T", "type": "quantitative", "scale": {"domain": [4.815, 4.845], "nice": false, "zero": false}},
             "y": {"field": "v", "type": "quantitative", "scale": {"domain": [-0.047, 1.04], "nice": false, "zero": false}},
             "color": {"field": "s", "type": "nominal", "scale": {"domain": ["97.8 mTorr","72.5 mTorr","43.2 mTorr","75.2 mTorr","67.7 mTorr","22 mTorr"], "range": ["#008000","#FF8000","#800080","#FF0000","#00FF00","#0000FF"]}, "legend": null}
           }},
          {"data": {"values": [{"T": 4.8287, "v": 0.225, "t": "ΔT"}, {"T": 4.8339, "v": 0.225, "t": "=20 mK"}]},
           "mark": {"type": "text", "fontSize": 17.5, "align": "left", "baseline": "middle", "color": "#808000"},
           "encoding": {
             "x": {"field": "T", "type": "quantitative", "scale": {"domain": [4.815, 4.845], "nice": false, "zero": false}},
             "y": {"field": "v", "type": "quantitative", "scale": {"domain": [-0.047, 1.04], "nice": false, "zero": false}},
             "text": {"field": "t"}
           }},
          {"data": {"values": [{"T": 4.83247, "v": 0.201, "t": "C"}]},
           "mark": {"type": "text", "fontSize": 11.5, "align": "left", "baseline": "middle", "color": "#808000"},
           "encoding": {
             "x": {"field": "T", "type": "quantitative", "scale": {"domain": [4.815, 4.845], "nice": false, "zero": false}},
             "y": {"field": "v", "type": "quantitative", "scale": {"domain": [-0.047, 1.04], "nice": false, "zero": false}},
             "text": {"field": "t"}
           }},
          {"data": {"values": [{"T": 4.8313, "v": 0.8, "t": "(d)"}]}, "mark": {"type": "text", "fontSize": 36, "align": "center", "baseline": "middle", "color": "black"},
           "encoding": {
             "x": {"field": "T", "type": "quantitative", "scale": {"domain": [4.815, 4.845], "nice": false, "zero": false}},
             "y": {"field": "v", "type": "quantitative", "scale": {"domain": [-0.047, 1.04], "nice": false, "zero": false}},
             "text": {"field": "t"}
           }},
          {"data": {"name": "tD"}, "transform": [{"filter": "datum.k=='m'"}], "mark": {"type": "point", "shape": "M0,0V-1", "size": 144, "filled": false, "strokeWidth": 2, "color": "black", "opacity": 1},
           "encoding": {
             "x": {"field": "T", "type": "quantitative", "scale": {"domain": [4.815, 4.845], "nice": false, "zero": false}},
             "y": {"datum": -0.047, "type": "quantitative", "scale": {"domain": [-0.047, 1.04], "nice": false, "zero": false}}
           }},
          {"data": {"name": "tD"}, "transform": [{"filter": "datum.k=='M'"}], "mark": {"type": "point", "shape": "M0,0V-1", "size": 400, "filled": false, "strokeWidth": 2, "color": "black", "opacity": 1},
           "encoding": {
             "x": {"field": "T", "type": "quantitative", "scale": {"domain": [4.815, 4.845], "nice": false, "zero": false}},
             "y": {"datum": -0.047, "type": "quantitative", "scale": {"domain": [-0.047, 1.04], "nice": false, "zero": false}}
           }},
          {"data": {"name": "tD"}, "transform": [{"filter": "datum.k=='m'"}], "mark": {"type": "point", "shape": "M0,0V1", "size": 144, "filled": false, "strokeWidth": 2, "color": "black", "opacity": 1},
           "encoding": {
             "x": {"field": "T", "type": "quantitative", "scale": {"domain": [4.815, 4.845], "nice": false, "zero": false}},
             "y": {"datum": 1.04, "type": "quantitative", "scale": {"domain": [-0.047, 1.04], "nice": false, "zero": false}}
           }},
          {"data": {"name": "tD"}, "transform": [{"filter": "datum.k=='M'"}], "mark": {"type": "point", "shape": "M0,0V1", "size": 400, "filled": false, "strokeWidth": 2, "color": "black", "opacity": 1},
           "encoding": {
             "x": {"field": "T", "type": "quantitative", "scale": {"domain": [4.815, 4.845], "nice": false, "zero": false}},
             "y": {"datum": 1.04, "type": "quantitative", "scale": {"domain": [-0.047, 1.04], "nice": false, "zero": false}}
           }},
          {"data": {"name": "tBy"}, "mark": {"type": "point", "shape": "M0,0H1", "size": 256, "filled": false, "strokeWidth": 2, "color": "black", "opacity": 1},
           "encoding": {
             "y": {"field": "v", "type": "quantitative", "scale": {"domain": [-0.047, 1.04], "nice": false, "zero": false}},
             "x": {"datum": 4.815, "type": "quantitative", "scale": {"domain": [4.815, 4.845], "nice": false, "zero": false}}
           }},
          {"data": {"name": "tBy"}, "mark": {"type": "point", "shape": "M0,0H-1", "size": 256, "filled": false, "strokeWidth": 2, "color": "black", "opacity": 1},
           "encoding": {
             "y": {"field": "v", "type": "quantitative", "scale": {"domain": [-0.047, 1.04], "nice": false, "zero": false}},
             "x": {"datum": 4.845, "type": "quantitative", "scale": {"domain": [4.815, 4.845], "nice": false, "zero": false}}
           }}
        ]
      }
    ]
  }
]
}
